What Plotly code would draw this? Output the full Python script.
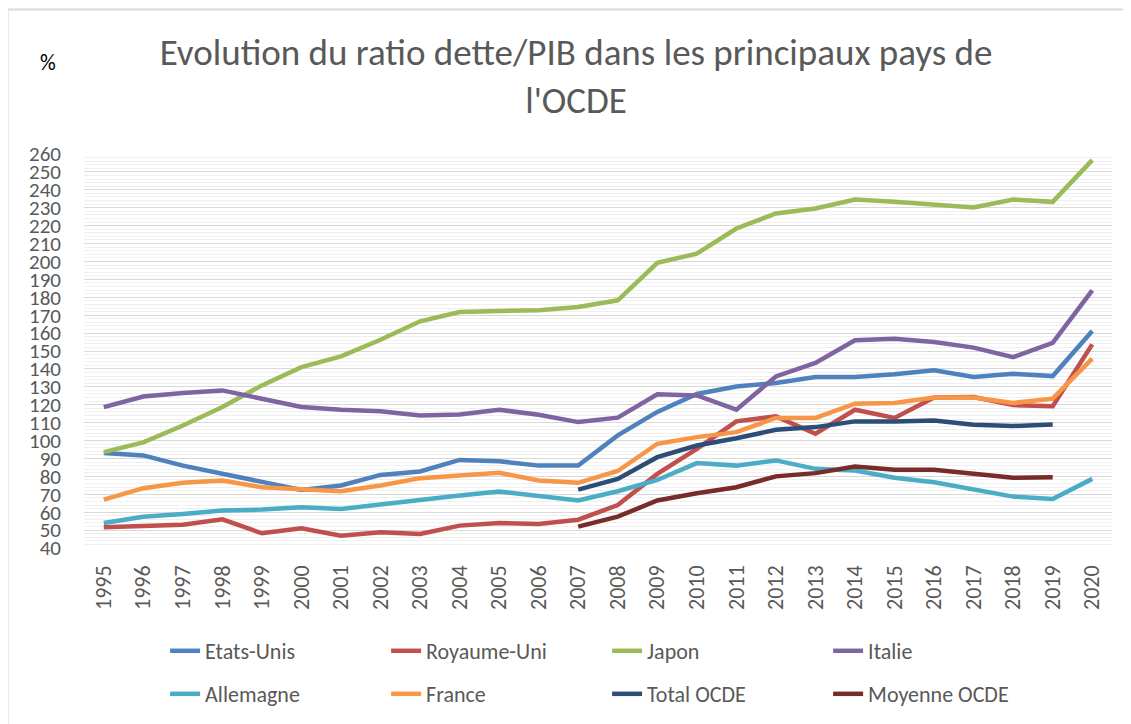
import plotly.graph_objects as go

years = [str(y) for y in range(1995, 2021)]

etats_unis = [93, 91.7, 86, 81.4, 76.4, 72.4, 74.9, 80.8, 82.7, 89.2, 88.5, 86, 86, 102.9, 116, 126,
              130.2, 132.1, 135.5, 135.5, 137, 139.2, 135.5, 137.3, 136, 161.2]
royaume_uni = [51.6, 52, 53, 56, 48.2, 51, 46.9, 48.8, 47.8, 52.5, 54, 53.4, 55.8, 64, 81.4, 95.4,
               110.7, 113.5, 103.8, 117.2, 112.6, 124, 124.3, 119.8, 119.2, 153.7]
japon = [93.5, 99, 108.4, 118.7, 130.8, 141, 147, 156.3, 166.6, 171.8, 172.4, 172.8, 174.6, 178.3,
         199.2, 204.4, 218.4, 226.8, 229.6, 234.6, 233.3, 231.5, 230.2, 234.6, 233.3, 256.6]
italie = [118.7, 124.6, 126.5, 128, 123.3, 118.7, 117.2, 116.4, 114, 114.6, 117.2, 114.4, 110.3, 112.8,
          125.8, 125.2, 117.2, 135.8, 143.3, 156, 156.9, 155, 151.9, 146.6, 154.5, 183.9]
allemagne = [54, 57.5, 59, 60.9, 61.5, 62.8, 61.8, 64.3, 67.4, 69.3, 71.5, 68.7, 66.5, 71.7, 78, 87.4,
             86, 88.9, 84.2, 83.3, 79.2, 76.7, 72.6, 68.7, 67.4, 78.6]
france = [67, 73.4, 76.4, 77.7, 73.9, 73, 71.7, 74.9, 79, 80.5, 82, 77.7, 76.4, 83, 98.2, 101.9,
          104.7, 112.6, 112.6, 120.6, 121, 124, 124, 121, 123.4, 145.7]
total_ocde = [None] * 12 + [72.6, 78.6, 90.7, 97.2, 101.3, 106, 107.5, 110.7, 110.7, 111.2, 108.8,
                            108.1, 109, None]
moyenne_ocde = [None] * 12 + [51.9, 57.5, 66.5, 70.6, 73.9, 80, 81.8, 85.5, 83.7, 83.7, 81.4, 79.2,
                              79.5, None]

series = [
    ("Etats-Unis", etats_unis, "#4F81BD", "legend"),
    ("Royaume-Uni", royaume_uni, "#C0504D", "legend"),
    ("Japon", japon, "#9BBB59", "legend"),
    ("Italie", italie, "#8064A2", "legend"),
    ("Allemagne", allemagne, "#4BACC6", "legend2"),
    ("France", france, "#F79646", "legend2"),
    ("Total OCDE", total_ocde, "#2C4D75", "legend2"),
    ("Moyenne OCDE", moyenne_ocde, "#772C2A", "legend2"),
]

FONT = "Carlito, Calibri, Lato, sans-serif"
TXT = "#595959"

fig = go.Figure()
for name, vals, color, leg in series:
    fig.add_trace(go.Scatter(
        x=years, y=vals, name=name, mode="lines",
        line=dict(color=color, width=4.5),
        connectgaps=False, legend=leg,
    ))

legend_common = dict(
    orientation="h", xanchor="left", yanchor="middle",
    entrywidth=176, entrywidthmode="pixels",
    font=dict(size=22, color=TXT, family=FONT),
    itemwidth=30, bgcolor="rgba(0,0,0,0)", borderwidth=0,
)

# The page body has an 8px margin, so the figure is sized and offset to fill the window.
fig.update_layout(
    width=1123, height=716,
    margin=dict(l=76, r=19, t=146, b=176, autoexpand=False),
    paper_bgcolor="white", plot_bgcolor="white",
    template="none",
    font=dict(family=FONT, color=TXT),
    title=dict(
        text="Evolution du ratio dette/PIB dans les principaux pays de<br>l'OCDE",
        x=0.5058, xanchor="center", y=0.920, yanchor="top",
        font=dict(size=37, color=TXT, family=FONT),
    ),
    showlegend=True,
    legend=dict(x=0.0789, y=-0.2614, **legend_common),
    legend2=dict(x=0.0789, y=-0.3706, **legend_common),
    xaxis=dict(
        type="category", range=[-0.5, 25.5],
        tickangle=-90, tickfont=dict(size=22, color=TXT),
        showgrid=False, showline=False, zeroline=False, ticks="",
        ticklabelstandoff=12, automargin=False,
    ),
    yaxis=dict(
        range=[40, 260], dtick=10, tick0=0,
        tickfont=dict(size=21, color=TXT),
        showgrid=True, gridcolor="#D9D9D9", gridwidth=1.3,
        minor=dict(dtick=2, showgrid=True, gridcolor="#F0F0F0", gridwidth=1),
        zeroline=False, showline=False, ticks="", ticklabelstandoff=22,
        automargin=False,
    ),
    shapes=[
        dict(type="line", xref="paper", yref="paper", x0=-0.0744, x1=1.2, y0=1.3668, y1=1.3668,
             line=dict(color="#D9D9D9", width=2)),
        dict(type="line", xref="paper", yref="paper", x0=-0.0744, x1=-0.0744, y0=1.3668, y1=-0.5,
             line=dict(color="#D9D9D9", width=2)),
    ],
    annotations=[
        dict(text="%", xref="paper", yref="paper", x=-0.035, y=1.231, xanchor="center",
             yanchor="middle", showarrow=False, font=dict(size=22, color="#000000", family=FONT)),
    ],
)

fig.write_html("out.html")
